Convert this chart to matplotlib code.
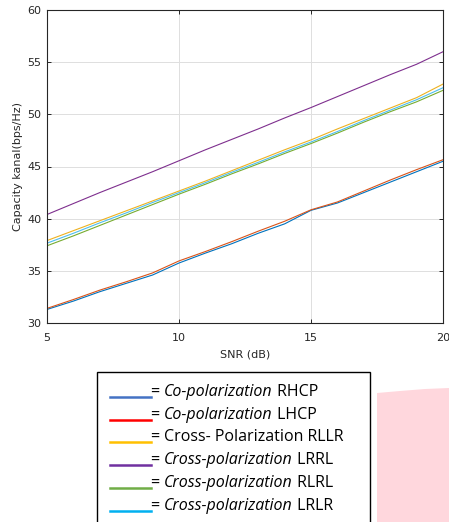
import matplotlib
matplotlib.use('Agg')
import matplotlib.pyplot as plt
from matplotlib.patches import Polygon, Rectangle
from matplotlib.lines import Line2D

# SNR sweep (dB) and capacity per polarization combination (bps/Hz)
snr = [5, 6, 7, 8, 9, 10, 11, 12, 13, 14, 15, 16, 17, 18, 19, 20]
rhcp = [31.3, 32.1, 33.0, 33.8, 34.6, 35.75, 36.7, 37.6, 38.6, 39.5, 40.8, 41.5, 42.5, 43.5, 44.5, 45.5]
lhcp = [31.4, 32.25, 33.15, 33.95, 34.8, 35.95, 36.85, 37.8, 38.8, 39.75, 40.85, 41.6, 42.65, 43.7, 44.7, 45.65]
rllr = [37.9, 38.85, 39.8, 40.75, 41.7, 42.65, 43.6, 44.6, 45.6, 46.6, 47.55, 48.6, 49.6, 50.6, 51.6, 52.9]
lrrl = [40.4, 41.45, 42.5, 43.5, 44.5, 45.55, 46.6, 47.6, 48.6, 49.65, 50.65, 51.7, 52.75, 53.8, 54.8, 56.0]
rlrl = [37.4, 38.35, 39.35, 40.35, 41.35, 42.35, 43.3, 44.3, 45.25, 46.25, 47.2, 48.2, 49.25, 50.25, 51.2, 52.3]
lrlr = [37.65, 38.6, 39.6, 40.55, 41.55, 42.5, 43.45, 44.45, 45.4, 46.4, 47.35, 48.35, 49.4, 50.4, 51.4, 52.55]

series = [rhcp, lhcp, rllr, lrrl, rlrl, lrlr]
line_colors = ['#0072BD', '#D95319', '#EDB120', '#7E2F8E', '#77AC30', '#4DBEEE']

# legend entries: (colour, italic part, upright part)
legend_colors = ['#4472C4', '#FF0000', '#FFC000', '#7030A0', '#70AD47', '#00B0F0']
legend_italic = ['Co-polarization', 'Co-polarization', '', 'Cross-polarization',
                 'Cross-polarization', 'Cross-polarization']
legend_plain = [' RHCP', ' LHCP', 'Cross- Polarization RLLR', ' LRRL', ' RLRL', ' LRLR']

W, H = 449, 522
fig = plt.figure(figsize=(W / 100, H / 100), dpi=100)

# pink shape behind the legend
pink = Polygon([(377 / W, 1 - 393 / H), (400 / W, 1 - 391 / H), (425 / W, 1 - 389 / H),
                (449 / W, 1 - 388 / H), (449 / W, 0), (377 / W, 0)],
               closed=True, transform=fig.transFigure, facecolor='#FFD7DD',
               edgecolor='none')
fig.patches.append(pink)

ax = fig.add_axes([47 / W, 1 - 323 / H, 396 / W, 313 / H])
for y, c in zip(series, line_colors):
    ax.plot(snr, y, color=c, linewidth=0.8)

ax.set_xlim(5, 20)
ax.set_ylim(30, 60)
ax.set_xticks([5, 10, 15, 20])
ax.set_yticks([30, 35, 40, 45, 50, 55, 60])
ax.grid(True, color='#DFDFDF', linewidth=0.7)
ax.tick_params(direction='in', length=3, width=0.7, colors='#262626',
               labelsize=8, top=True, right=True, pad=4)
ax.tick_params(axis='x', pad=7)
for s in ax.spines.values():
    s.set_color('#262626')
    s.set_linewidth(0.8)
ax.set_xlabel('SNR (dB)', fontsize=8, color='#262626', labelpad=5)
ax.set_ylabel('Capacity kanal(bps/Hz)', fontsize=8, color='#262626', labelpad=3)

# legend box drawn by hand
box = Rectangle((97 / W, -0.01), (370 - 97) / W, (1 - 372 / H) + 0.01,
                transform=fig.transFigure, facecolor='white', edgecolor='black',
                linewidth=1.0)
fig.patches.append(box)

fig.canvas.draw()
renderer = fig.canvas.get_renderer()
fam = ['Open Sans', 'DejaVu Sans']
row0 = 397
for i in range(6):
    yline = 1 - (row0 + i * 22.7) / H
    fig.lines.append(Line2D([110 / W, 151 / W], [yline, yline], transform=fig.transFigure,
                            color=legend_colors[i], linewidth=1.8))
    ytxt = yline + 1 / H
    x = 151 / W
    t = fig.text(x, ytxt, '= ', fontsize=11.5, family=fam, va='baseline', ha='left')
    x = t.get_window_extent(renderer).x1 / W
    if legend_italic[i]:
        t = fig.text(x, ytxt, legend_italic[i], fontsize=11.5, family=fam,
                     style='italic', va='baseline', ha='left')
        x = t.get_window_extent(renderer).x1 / W
    fig.text(x, ytxt, legend_plain[i], fontsize=11.5, family=fam,
             va='baseline', ha='left')

fig.savefig('out.png', dpi=100)
